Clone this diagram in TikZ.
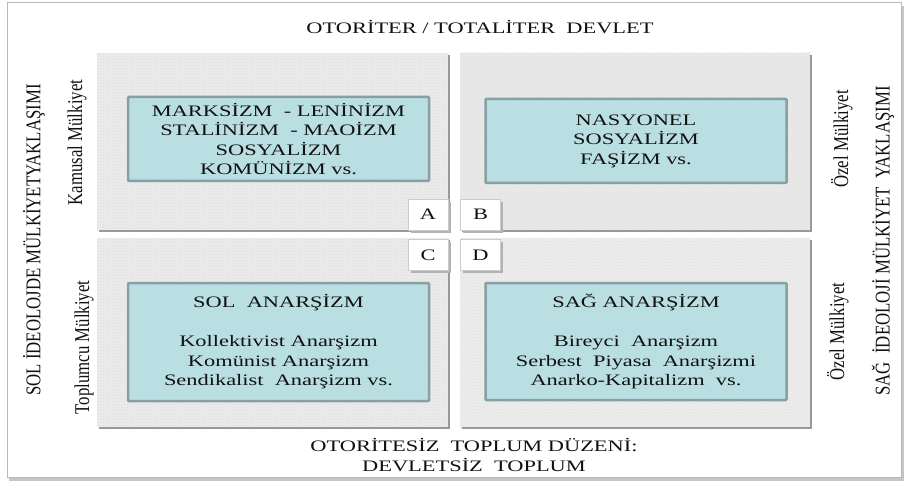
\documentclass[tikz,border=0pt]{standalone}
\usepackage{fontspec}
\setmainfont{Liberation Serif}
\newfontfamily\wideserif[FakeStretch=1.4]{Liberation Serif}
\newfontfamily\narrowserif[FakeStretch=0.8]{Liberation Serif}
\usetikzlibrary{patterns}
\definecolor{boxfill}{HTML}{B9DFE3}
\definecolor{boxline}{HTML}{88A0A3}
\definecolor{quadfill}{HTML}{ECECEC}
\definecolor{inkgray}{HTML}{111111}

\begin{document}
\begin{tikzpicture}[x=1pt, y=-1pt,
    quad/.style={fill=quadfill},
    quadshadow/.style={draw=gray!80, line width=1.5pt},
    idea/.style={draw=boxline, fill=boxfill, line width=2.5pt, rounded corners=1pt,
        minimum width=301pt, minimum height=84pt, inner sep=0pt, align=center,
        font=\wideserif\fontsize{16}{19.5}\selectfont, text=inkgray},
    tag/.style={draw=gray!40, fill=white, minimum width=40pt, minimum height=31pt,
        inner sep=0pt, font=\wideserif\fontsize{16}{19}\selectfont, text=inkgray},
    tagshadow/.style={fill=gray!60},
    side/.style={rotate=90, inner sep=0pt, font=\narrowserif\fontsize{21}{24}\selectfont, text=inkgray},
    axis/.style={inner sep=0pt, align=center, font=\wideserif\fontsize{16}{20}\selectfont, text=inkgray}]

    \useasboundingbox (0,0) rectangle (908,484);

    % outer frame with its little shadow
    \fill [gray!45] (9,6) rectangle (904,481);
    \draw [fill=white, draw=gray!55, line width=1pt] (7,3) rectangle (901,477);

    % the four quadrants
    \coordinate (QA_1) at (97,53);
    \coordinate (QA_2) at (448,230);
    \coordinate (QB_1) at (460,53);
    \coordinate (QB_2) at (810,230);
    \coordinate (QC_1) at (97,238);
    \coordinate (QC_2) at (448,427);
    \coordinate (QD_1) at (460,238);
    \coordinate (QD_2) at (810,427);

    \fill [quad] (QA_1) rectangle (QA_2);
    \fill [pattern=crosshatch dots, pattern color=gray!30] (QA_1) rectangle (QA_2);
    \fill [quad] (QB_1) rectangle (QB_2);
    \fill [pattern=north east lines, pattern color=gray!25] (QB_1) rectangle (QB_2);
    \fill [quad] (QC_1) rectangle (QC_2);
    \fill [pattern=crosshatch dots, pattern color=gray!30] (QC_1) rectangle (QC_2);
    \fill [quad] (QD_1) rectangle (QD_2);
    \fill [pattern=grid, pattern color=gray!18] (QD_1) rectangle (QD_2);

    % shadows on right and bottom edges
    \draw [quadshadow] (448.75,55) -- (448.75,230.75) -- (99,230.75);
    \draw [quadshadow] (810.75,55) -- (810.75,230.75) -- (462,230.75);
    \draw [quadshadow] (448.75,240) -- (448.75,427.75) -- (99,427.75);
    \draw [quadshadow] (810.75,240) -- (810.75,427.75) -- (462,427.75);

    % ideologies
    \node [idea] (Box_A) at (278.5,139) {MARKSİZM \ - LENİNİZM\\STALİNİZM \ - MAOİZM\\SOSYALİZM\\KOMÜNİZM vs.};
    \node [idea] (Box_B) at (636,141) {NASYONEL\\SOSYALİZM\\FAŞİZM vs.};
    \node [idea, minimum height=118pt] (Box_C) at (278.5,342) {SOL \ ANARŞİZM\\[19.5pt]Kollektivist Anarşizm\\Komünist Anarşizm\\Sendikalist \ Anarşizm vs.};
    \node [idea, minimum height=117pt] (Box_D) at (636,341.5) {SAĞ ANARŞİZM\\[19.5pt]Bireyci \ Anarşizm\\Serbest \ Piyasa \ Anarşizmi\\Anarko-Kapitalizm \ vs.};

    % letters in the middle
    \fill [tagshadow] (410.5,201.5) rectangle (450.5,232.5);
    \node [tag] (Tag_A) at (428,214.5) {A};
    \fill [tagshadow] (463,201.5) rectangle (503,232.5);
    \node [tag] (Tag_B) at (480.5,214.5) {B};
    \fill [tagshadow] (410.5,241.5) rectangle (450.5,272.5);
    \node [tag] (Tag_C) at (428,255) {C};
    \fill [tagshadow] (463,241.5) rectangle (503,272.5);
    \node [tag] (Tag_D) at (480.5,255) {D};

    % top and bottom
    \node [axis, anchor=base] (Top) at (480,34) {OTORİTER / TOTALİTER \ DEVLET};
    \node [axis] (Bottom) at (474,455) {OTORİTESİZ \ TOPLUM DÜZENİ:\\DEVLETSİZ \ TOPLUM};

    % sides, rotated
    \node [side] (Left_Big) at (34,240) {SOL İDEOLOJDE MÜLKİYETYAKLAŞIMI};
    \node [side] (Left_Up) at (77,142.5) {Kamusal Mülkiyet};
    \node [side] (Left_Down) at (84,347.5) {Toplumcu Mülkiyet};
    \node [side] (Right_Big) at (883,241) {SAĞ \ İDEOLOJİ MÜLKİYET \ YAKLAŞIMI};
    \node [side] (Right_Up) at (842,139) {Özel Mülkiyet};
    \node [side] (Right_Down) at (838,331.5) {Özel Mülkiyet};

\end{tikzpicture}
\end{document}
